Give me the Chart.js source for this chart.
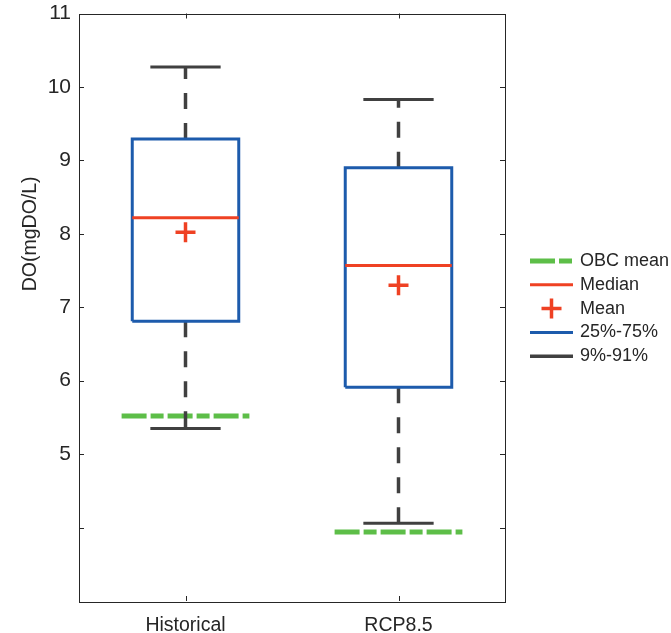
<!DOCTYPE html>
<html><head><meta charset="utf-8">
<script src="https://cdn.jsdelivr.net/npm/chart.js@4.4.0/dist/chart.umd.min.js"></script>
<style>html,body{margin:0;padding:0;background:#fff}#wrap{width:671px;height:633px}</style>
</head><body><div id="wrap"><canvas id="c" width="671" height="633"></canvas></div>
<script>
// ---- data ----
const categories = ['Historical', 'RCP8.5'];
const whiskerHigh = [10.27, 9.83];
const q3 = [9.29, 8.90];
const medians = [8.22, 7.57];
const means = [8.02, 7.30];
const q1 = [6.81, 5.91];
const whiskerLow = [5.35, 4.06];
const obcMean = [5.52, 3.94];
const yTicks = [4, 5, 6, 7, 8, 9, 10, 11];
const yLabelled = [5, 6, 7, 8, 9, 10, 11];
const legendLabels = ['OBC mean', 'Median', 'Mean', '25%-75%', '9%-91%'];
const yTitle = 'DO(mgDO/L)';

// ---- styles ----
const C = { green: '#5DBE48', red: '#EF4123', blue: '#1D5BAC', grey: '#404040', axis: '#262626' };
const FONT = '"Liberation Sans", Arial, Helvetica, sans-serif';
const BOX_HW = 0.25, CAP_HW = 0.165, OBC_HW = 0.3;
const OBC_DASH = [25, 4, 13, 4], WHISK_DASH = [16, 14];

const seg = (pts, color, width, dash, order) => ({
  data: pts, showLine: true, borderColor: color, borderWidth: width,
  borderDash: dash || [], pointRadius: 0, pointHoverRadius: 0, fill: false, tension: 0,
  order: order, borderCapStyle: 'butt', borderJoinStyle: 'miter'
});

const datasets = [];
categories.forEach((cat, i) => {
  const x = i + 1;
  datasets.push({ data: [{ x: x, y: means[i] }], pointStyle: 'cross', pointRadius: 10, pointHoverRadius: 10,
    borderWidth: 3.5, borderColor: C.red, backgroundColor: C.red, showLine: false, order: 0 });
  datasets.push(seg([{ x: x - BOX_HW, y: medians[i] }, { x: x + BOX_HW, y: medians[i] }], C.red, 3, null, 1));
  datasets.push(seg([
    { x: x - BOX_HW, y: q1[i] }, { x: x - BOX_HW, y: q3[i] }, { x: x + BOX_HW, y: q3[i] },
    { x: x + BOX_HW, y: q1[i] }, { x: x - BOX_HW, y: q1[i] }], C.blue, 3, null, 2));
  datasets.push(seg([{ x: x, y: q3[i] }, { x: x, y: whiskerHigh[i] }], C.grey, 3.5, WHISK_DASH, 3));
  datasets.push(seg([{ x: x, y: q1[i] }, { x: x, y: whiskerLow[i] }], C.grey, 3.5, WHISK_DASH, 3));
  datasets.push(seg([{ x: x - CAP_HW, y: whiskerHigh[i] }, { x: x + CAP_HW, y: whiskerHigh[i] }], C.grey, 3, null, 3));
  datasets.push(seg([{ x: x - CAP_HW, y: whiskerLow[i] }, { x: x + CAP_HW, y: whiskerLow[i] }], C.grey, 3, null, 3));
  datasets.push(seg([{ x: x - OBC_HW, y: obcMean[i] }, { x: x + OBC_HW, y: obcMean[i] }], C.green, 5, OBC_DASH, 4));
});

const framePlugin = {
  id: 'frame',
  afterDraw(chart) {
    const { ctx, chartArea: a, scales } = chart;
    const xs = scales.x, ys = scales.y;
    ctx.save();
    ctx.strokeStyle = C.axis; ctx.lineWidth = 1; ctx.setLineDash([]);
    ctx.strokeRect(Math.round(a.left) + 0.5, Math.round(a.top) + 0.5, Math.round(a.right - a.left), Math.round(a.bottom - a.top));
    const TL = 5;
    ctx.beginPath();
    yTicks.forEach(v => {
      const py = Math.round(ys.getPixelForValue(v)) + 0.5;
      ctx.moveTo(a.left, py); ctx.lineTo(a.left + TL, py);
      ctx.moveTo(a.right, py); ctx.lineTo(a.right - TL, py);
    });
    categories.forEach((c, i) => {
      const px = Math.round(xs.getPixelForValue(i + 1)) + 0.5;
      ctx.moveTo(px, a.bottom); ctx.lineTo(px, a.bottom - TL);
      ctx.moveTo(px, a.top); ctx.lineTo(px, a.top + TL);
    });
    ctx.stroke();

    // y-axis title, centred on the labelled tick range
    ctx.save();
    ctx.translate(31, ys.getPixelForValue((yLabelled[0] + yLabelled[yLabelled.length - 1]) / 2));
    ctx.rotate(-Math.PI / 2);
    ctx.font = '19.5px ' + FONT; ctx.fillStyle = C.axis; ctx.textAlign = 'center'; ctx.textBaseline = 'middle';
    ctx.fillText(yTitle, 0, 0);
    ctx.restore();

    // legend
    const x0 = 530, x1 = 573, tx = 580, y0 = 261, dy = 23.8;
    ctx.font = '18px ' + FONT; ctx.fillStyle = C.axis; ctx.textBaseline = 'middle'; ctx.textAlign = 'left';
    legendLabels.forEach((lab, k) => {
      const y = y0 + k * dy;
      ctx.save();
      ctx.lineCap = 'butt';
      if (k === 0) { ctx.strokeStyle = C.green; ctx.lineWidth = 5; ctx.setLineDash(OBC_DASH); ctx.beginPath(); ctx.moveTo(x0, y); ctx.lineTo(x1, y); ctx.stroke(); }
      if (k === 1) { ctx.strokeStyle = C.red; ctx.lineWidth = 3; ctx.beginPath(); ctx.moveTo(x0, y); ctx.lineTo(x1, y); ctx.stroke(); }
      if (k === 2) { const cx = (x0 + x1) / 2; ctx.strokeStyle = C.red; ctx.lineWidth = 3.5; ctx.beginPath(); ctx.moveTo(cx - 10, y); ctx.lineTo(cx + 10, y); ctx.moveTo(cx, y - 10); ctx.lineTo(cx, y + 10); ctx.stroke(); }
      if (k === 3) { ctx.strokeStyle = C.blue; ctx.lineWidth = 3; ctx.beginPath(); ctx.moveTo(x0, y); ctx.lineTo(x1, y); ctx.stroke(); }
      if (k === 4) { ctx.strokeStyle = C.grey; ctx.lineWidth = 3.5; ctx.beginPath(); ctx.moveTo(x0, y); ctx.lineTo(x1, y); ctx.stroke(); }
      ctx.restore();
      ctx.fillText(lab, tx, y);
    });
    ctx.restore();
  }
};

new Chart(document.getElementById('c'), {
  type: 'scatter',
  data: { datasets: datasets },
  options: {
    responsive: false, animation: false, devicePixelRatio: 1,
    layout: { padding: { left: 0, right: 166, top: 13, bottom: 0 } },
    plugins: { legend: { display: false }, tooltip: { enabled: false } },
    scales: {
      x: {
        type: 'linear', min: 0.5, max: 2.5,
        afterBuildTicks(scale) { scale.ticks = categories.map((c, i) => ({ value: i + 1 })); },
        afterFit(scale) { scale.height = 32; scale.paddingLeft = 0; scale.paddingRight = 0; },
        ticks: { callback: (v) => categories[Math.round(v) - 1] || '', color: C.axis, font: { family: FONT, size: 19.5 }, padding: 13, maxRotation: 0, autoSkip: false },
        grid: { display: false, drawTicks: false }, border: { display: false }
      },
      y: {
        type: 'linear', min: 3, max: 11,
        afterBuildTicks(scale) { scale.ticks = yTicks.map(v => ({ value: v })); },
        afterFit(scale) { scale.width = 79; scale.paddingTop = 0; scale.paddingBottom = 0; },
        ticks: { callback: (v) => yLabelled.includes(v) ? String(v) : '', color: C.axis, font: { family: FONT, size: 21 }, padding: 8 },
        grid: { display: false, drawTicks: false }, border: { display: false }
      }
    }
  },
  plugins: [framePlugin]
});
</script></body></html>
